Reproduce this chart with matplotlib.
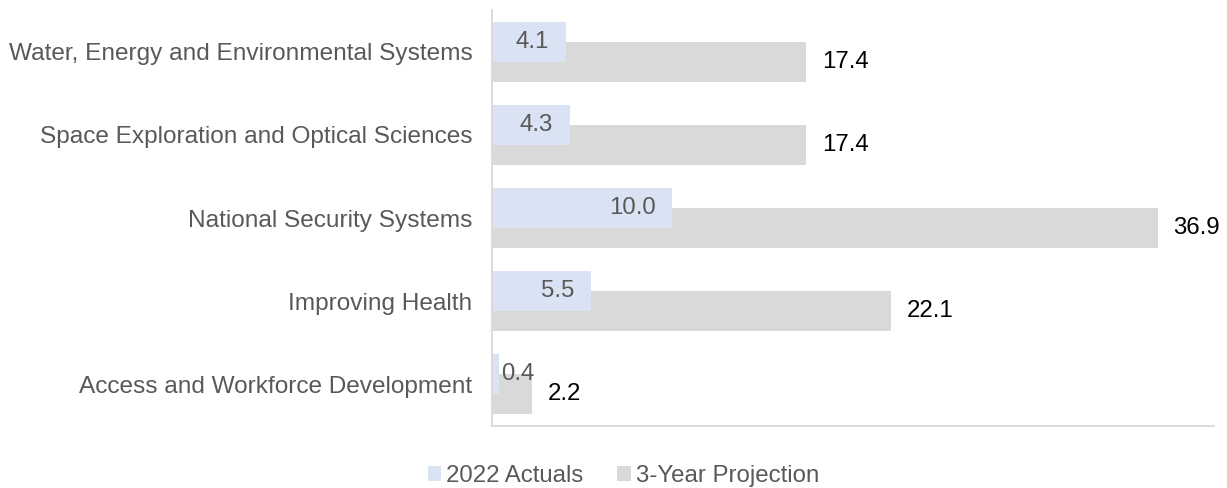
import matplotlib
matplotlib.use("Agg")
import matplotlib.pyplot as plt
import numpy as np

plt.rcParams['font.family'] = ['Liberation Sans', 'DejaVu Sans']

categories = [
    "Water, Energy and Environmental Systems",
    "Space Exploration and Optical Sciences",
    "National Security Systems",
    "Improving Health",
    "Access and Workforce Development",
]
actuals_2022 = [4.1, 4.3, 10.0, 5.5, 0.4]
projection_3yr = [17.4, 17.4, 36.9, 22.1, 2.2]
series_names = ["2022 Actuals", "3-Year Projection"]

blue = "#dae3f3"
grey = "#d9d9d9"
text_grey = "#595959"
fs = 17.3

fig = plt.figure(figsize=(12.27, 4.88), dpi=100)
ax = fig.add_axes([0.401, 0.127, 0.588, 0.8525])

y = np.arange(len(categories))
h = 0.48
off = 0.12

b1 = ax.barh(y - off, actuals_2022, height=h, color=blue, label=series_names[0], zorder=2)
b2 = ax.barh(y + off, projection_3yr, height=h, color=grey, label=series_names[1], zorder=1)

# labels: actuals inside end (outside if the bar is too short), projection outside end
for rect, v in zip(b1, actuals_2022):
    cy = rect.get_y() + rect.get_height() / 2
    if v < 1:
        ax.annotate(f"{v:.1f}", (v, cy), xytext=(1, 0), textcoords="offset points",
                    ha="left", va="center", fontsize=fs, color=text_grey, zorder=3)
    else:
        ax.annotate(f"{v:.1f}", (v, cy), xytext=(-12, 0), textcoords="offset points",
                    ha="right", va="center", fontsize=fs, color=text_grey, zorder=3)
for rect, v in zip(b2, projection_3yr):
    cy = rect.get_y() + rect.get_height() / 2
    ax.annotate(f"{v:.1f}", (v, cy), xytext=(11.5, 0), textcoords="offset points",
                ha="left", va="center", fontsize=fs, color="black", zorder=3)

ax.set_xlim(0, 40)
ax.set_ylim(len(categories) - 0.5, -0.5)
ax.set_yticks(y)
ax.set_yticklabels(categories, fontsize=17.6, color=text_grey)
ax.set_xticks([])
ax.tick_params(axis='y', length=0, pad=14)
for s in ["top", "right"]:
    ax.spines[s].set_visible(False)
for s in ["left", "bottom"]:
    ax.spines[s].set_color(grey)
    ax.spines[s].set_linewidth(1.3)

fig.legend(handles=[b1, b2], labels=series_names, loc="center", bbox_to_anchor=(0.508, 0.024),
           ncol=2, frameon=False, fontsize=fs, labelcolor=text_grey,
           handlelength=0.58, handleheight=0.58, handletextpad=0.2, columnspacing=1.4,
           borderpad=0)

fig.savefig("out.png", dpi=100)
